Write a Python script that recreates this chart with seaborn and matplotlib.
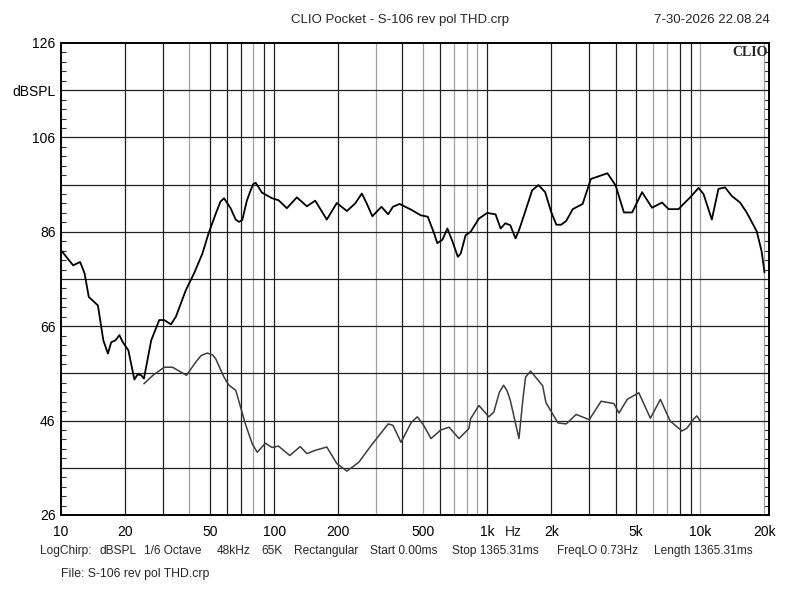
import matplotlib
matplotlib.use("Agg")
import matplotlib.pyplot as plt
import seaborn as sns
import numpy as np
import pandas as pd
from matplotlib.ticker import FixedLocator, NullFormatter, MultipleLocator

# ---- data ----
freq_spl = [10, 11.4, 12.3, 12.9, 13.5, 14.9, 15.8, 16.6, 17.2, 18.0,
            18.8, 19.5, 20.7, 22.1, 22.9, 23.8, 24.5, 26.5, 28.9, 30.5,
            32.8, 34.6, 38.5, 42.1, 46.1, 49.2, 53.3, 56.0, 58.2, 62.5, 66.0, 68.4,
            70.9, 74.5, 77.6, 79.8, 81.9, 87.7, 97.9, 104.8, 114.8, 127.8, 142.5, 155.9,
            176.7, 196.9, 219.5, 240, 258, 272, 289, 319, 343, 361, 388,
            439, 487, 526, 564, 583, 616, 650, 685, 728, 751,
            792, 836, 914, 1000, 1094, 1156, 1216, 1283, 1358, 1409,
            1513, 1625, 1740, 1870, 1999, 2111, 2224, 2347, 2520, 2803,
            3066, 3666, 4007, 4379, 4787, 5328, 5935, 6607, 7098, 7904,
            8345, 8965, 9807, 10350, 11320, 12163, 13070, 14040, 15360, 16500,
            18400, 19400, 20000]
spl = [82.1, 78.9, 79.6, 77.2, 72.2, 70.4, 63.0, 60.2, 62.6, 63.0,
       64.1, 62.6, 60.9, 54.7, 55.8, 55.6, 54.9, 63.0, 67.3, 67.3,
       66.4, 68.0, 73.6, 77.2, 81.4, 85.6, 89.9, 92.4, 93.1, 91.0, 88.6, 88.1,
       88.5, 92.6, 94.8, 96.1, 96.4, 94.3, 93.1, 92.7, 91.0, 93.3, 91.4, 92.6,
       88.6, 92.1, 90.4, 92.0, 94.1, 92.0, 89.3, 91.3, 89.7, 91.3, 91.9,
       90.7, 89.5, 89.2, 85.6, 83.6, 84.3, 86.7, 84.1, 80.7, 81.4,
       85.3, 86.0, 88.8, 90.0, 89.7, 86.7, 87.8, 87.4, 84.6, 86.3,
       90.5, 94.8, 95.9, 94.4, 90.1, 87.5, 87.5, 88.3, 90.8, 91.9,
       97.2, 98.4, 95.8, 90.1, 90.1, 94.4, 91.1, 92.2, 90.8, 90.8,
       91.9, 93.3, 95.3, 94.0, 88.6, 95.1, 95.4, 93.6, 92.2, 90.1,
       86.1, 81.8, 77.4]

freq_thd = [24.5, 27, 30.5, 33.4, 38.8, 42.9, 45.5, 48.6, 51.5, 53.2, 58.2, 61.4,
            66.1, 73.3, 78.9, 83.3, 91, 97.9, 104.8, 118.5, 132.6, 142.5,
            155.9, 176.7, 196.9, 219.5, 250, 285, 343, 361, 394, 440, 470, 500,
            545, 605, 662, 737, 820, 836, 914, 1018, 1074, 1140, 1194, 1240,
            1283, 1409, 1470, 1513, 1597, 1820, 1886, 2149, 2347, 2615, 3012,
            3421, 3934, 4151, 4540, 5144, 5830, 6494, 7218, 8200, 8660,
            9290, 9630, 10000]
thd = [53.8, 55.6, 57.3, 57.3, 55.6, 58.4, 59.8, 60.3, 59.9, 59.1, 55.2, 53.5,
       52.4, 45.3, 41.1, 39.3, 41.2, 40.3, 40.6, 38.6, 40.5, 39.0,
       39.7, 40.4, 36.9, 35.3, 37.2, 40.7, 45.3, 45.0, 41.4, 45.6, 46.8, 45.2,
       42.2, 44.0, 44.6, 42.2, 44.3, 46.4, 49.2, 46.8, 47.8, 52.0, 53.5, 52.3,
       50.3, 42.2, 50.5, 55.2, 56.5, 53.4, 49.8, 45.5, 45.3, 47.3, 46.2,
       50.1, 49.6, 47.6, 50.5, 51.9, 46.5, 50.5, 45.9, 43.8, 44.4,
       46.3, 47.0, 45.9]

x_tick_vals = [10, 20, 50, 100, 200, 500, 1000, 2000, 5000, 10000, 20000]
x_tick_labels = ["10", "20", "50", "100", "200", "500", "1k", "2k", "5k", "10k", "20k"]
y_tick_vals = [26, 36, 46, 56, 66, 76, 86, 96, 106, 116, 126]
y_tick_labels = ["26", "", "46", "", "66", "", "86", "", "106", "dBSPL", "126"]

title = "CLIO Pocket - S-106 rev pol THD.crp"
date_text = "7-30-2026 22.08.24"
info_parts = ["LogChirp:", "dBSPL", "1/6 Octave", "48kHz", "65K", "Rectangular",
              "Start 0.00ms", "Stop 1365.31ms", "FreqLO 0.73Hz", "Length 1365.31ms"]
info_x = [40, 100, 144, 217, 261, 294, 370, 452, 557, 654]
file_text = "File: S-106 rev pol THD.crp"

# ---- style ----
sns.set_theme(style="white")
plt.rcParams['font.family'] = ['Liberation Sans', 'DejaVu Sans']

fig = plt.figure(figsize=(8, 6), dpi=100)
fig.patch.set_facecolor("white")
ax = fig.add_axes([61/800, 1 - 515/600, (769 - 61)/800, (515 - 43)/600])
ax.set_facecolor("white")

df_spl = pd.DataFrame({"f": freq_spl, "db": spl})
df_thd = pd.DataFrame({"f": freq_thd, "db": thd})

ax.set_xscale("log")
ax.set_xlim(10, 21000)
ax.set_ylim(26, 126)

# grid lines
gray_minor = [40, 80, 300, 500, 700, 800, 900, 6000, 7000, 10000, 20000]
for dec in [10, 100, 1000, 10000]:
    for m in range(1, 10):
        f = dec * m
        if f <= 10 or f > 21000:
            continue
        col = "#a0a0a0" if f in gray_minor else "#202020"
        ax.axvline(f, color=col, lw=0.9, zorder=1)
for y in y_tick_vals[1:-1]:
    ax.axhline(y, color="#202020", lw=0.9, zorder=1)

sns.lineplot(data=df_spl, x="f", y="db", ax=ax, color="black", lw=1.3,
             estimator=None, sort=False, zorder=3)
sns.lineplot(data=df_thd, x="f", y="db", ax=ax, color="#3c3c3c", lw=1.1,
             estimator=None, sort=False, zorder=3)

ax.set_xlabel("")
ax.set_ylabel("")

ax.xaxis.set_major_locator(FixedLocator(x_tick_vals))
ax.set_xticklabels(x_tick_labels)
ax.xaxis.set_minor_locator(FixedLocator([]))
ax.xaxis.set_minor_formatter(NullFormatter())
ax.tick_params(axis="x", which="both", length=0, pad=7, labelsize=10, colors="black")

ax.yaxis.set_major_locator(FixedLocator(y_tick_vals))
ax.set_yticklabels(y_tick_labels)
ax.yaxis.set_minor_locator(MultipleLocator(2))
ax.tick_params(axis="y", which="major", length=0, pad=4, labelsize=10, colors="black")
ax.tick_params(axis="y", which="minor", direction="in", length=3.5, width=0.8,
               left=True, right=True, color="#303030")

ax.annotate("Hz", xy=(1330, 0), xycoords=("data", "axes fraction"),
            xytext=(0, -7), textcoords="offset points", ha="center", va="top",
            fontsize=10)

for s in ax.spines.values():
    s.set_color("black")
    s.set_linewidth(1.4)

ax.text(0.998, 0.993, "CLIO", transform=ax.transAxes, ha="right", va="top",
        fontsize=10, fontweight="bold", family=["Liberation Serif", "DejaVu Serif"])

fig.text(400/800, 1 - 20/600, title, ha="center", va="center", fontsize=9.5)
fig.text(770/800, 1 - 20/600, date_text, ha="right", va="center", fontsize=9.5)
for txt, xp in zip(info_parts, info_x):
    fig.text(xp/800, 1 - 551/600, txt, ha="left", va="center", fontsize=8.6)
fig.text(61/800, 1 - 574/600, file_text, ha="left", va="center", fontsize=8.8)

fig.savefig("out.png", dpi=100, facecolor="white")
